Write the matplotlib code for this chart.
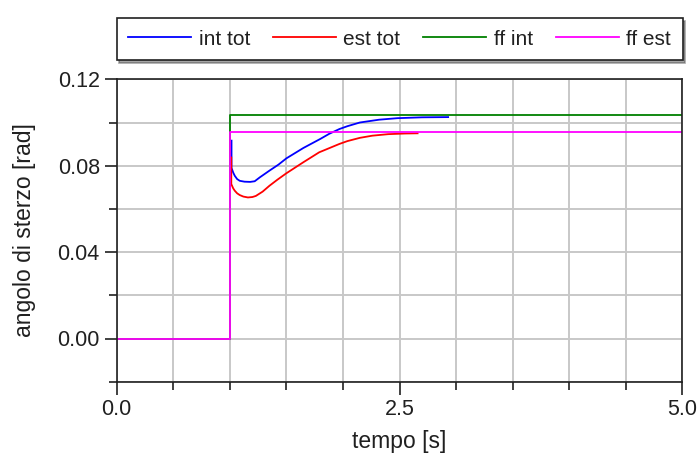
import matplotlib
matplotlib.use("Agg")
import matplotlib.pyplot as plt
from matplotlib.ticker import MultipleLocator, FixedLocator, FormatStrFormatter

plt.rcParams['font.family'] = ['Liberation Sans', 'DejaVu Sans']

# Feed-forward steering commands (step at t = 1 s)
t_ff = [0.0, 1.0, 1.0, 5.0]
ff_int = [0.0, 0.0, 0.1033, 0.1033]
ff_est = [0.0, 0.0, 0.0957, 0.0957]

# Total steering angle, internal wheel
t_int = [1.015, 1.015, 1.03, 1.044, 1.065, 1.088, 1.13, 1.18, 1.22, 1.265,
         1.35, 1.43, 1.50, 1.65, 1.80, 1.88, 1.97, 2.04, 2.15, 2.32, 2.48,
         2.70, 2.93]
int_tot = [0.0916, 0.0790, 0.0768, 0.0753, 0.0738, 0.0730, 0.0726, 0.0725,
           0.0728, 0.0746, 0.0777, 0.0805, 0.0834, 0.0882, 0.0924, 0.0948,
           0.0970, 0.0983, 0.1000, 0.1013, 0.1020, 0.1024, 0.1025]

# Total steering angle, external wheel
t_est = [1.013, 1.013, 1.03, 1.044, 1.065, 1.088, 1.12, 1.16, 1.20, 1.23,
         1.29, 1.35, 1.42, 1.50, 1.65, 1.79, 1.97, 2.04, 2.15, 2.26, 2.40,
         2.55, 2.66]
est_tot = [0.0838, 0.0715, 0.0695, 0.0684, 0.0672, 0.0664, 0.0657, 0.0653,
           0.0655, 0.0660, 0.0680, 0.0707, 0.0735, 0.0765, 0.0816, 0.0862,
           0.0901, 0.0914, 0.0929, 0.0939, 0.0946, 0.0949, 0.0950]

x_major = [0.0, 2.5, 5.0]
y_major = [0.00, 0.04, 0.08, 0.12]

W, H = 697, 459
fig = plt.figure(figsize=(W / 100, H / 100), dpi=100)
x0, x1, y0, y1 = 116.7, 682.3, 79.3, 381.7
ax = fig.add_axes([x0 / W, 1 - y1 / H, (x1 - x0) / W, (y1 - y0) / H])

lw = 1.3
ax.plot(t_int, int_tot, color='#0000ff', lw=lw, label='int tot')
ax.plot(t_est, est_tot, color='#ff0000', lw=lw, label='est tot')
ax.plot(t_ff, ff_int, color='#008000', lw=lw, label='ff int')
ax.plot(t_ff, ff_est, color='#ff00ff', lw=lw, label='ff est')

ax.set_xlim(0, 5)
ax.set_ylim(-0.02, 0.12)

ax.xaxis.set_major_locator(FixedLocator(x_major))
ax.xaxis.set_minor_locator(MultipleLocator(0.5))
ax.yaxis.set_major_locator(FixedLocator(y_major))
ax.yaxis.set_minor_locator(MultipleLocator(0.02))
ax.xaxis.set_major_formatter(FormatStrFormatter('%.1f'))
ax.yaxis.set_major_formatter(FormatStrFormatter('%.2f'))

ax.set_axisbelow(True)
ax.grid(which='both', color='#c8c8c8', lw=1.4)

txt = '#202020'
for s in ax.spines.values():
    s.set_linewidth(1.2)
    s.set_color('#202020')
ax.tick_params(which='major', direction='out', length=9, width=1.2,
               color='#202020', labelsize=15.5, labelcolor=txt, pad=3.2)
ax.tick_params(which='minor', direction='out', length=6, width=1.2,
               color='#202020')

ax.set_xlabel('tempo [s]', fontsize=16.5, color=txt)
ax.set_ylabel('angolo di sterzo [rad]', fontsize=16.5, color=txt)
ax.xaxis.set_label_coords(0.5, -0.16)
ax.yaxis.set_label_coords(-0.143, 0.5)

leg = fig.legend(loc='lower left',
                 bbox_to_anchor=(x0 / W, 1 - 60 / H, (682.7 - x0) / W, 0.05),
                 mode='expand', ncol=4, borderaxespad=0, fontsize=15,
                 handlelength=3.0, handletextpad=0.38, borderpad=0.55,
                 fancybox=False, shadow=True, framealpha=1)
leg.get_frame().set_edgecolor('#202020')
leg.get_frame().set_linewidth(1.2)
for t in leg.get_texts():
    t.set_color(txt)

fig.savefig('out.png', dpi=100)
